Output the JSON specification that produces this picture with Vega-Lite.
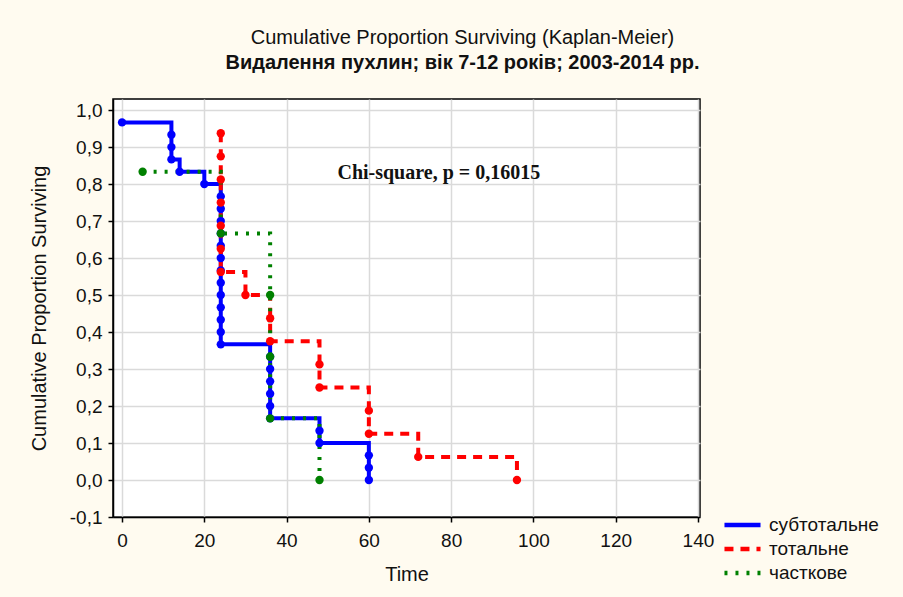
{
  "$schema": "https://vega.github.io/schema/vega-lite/v6.json",
  "width": 587,
  "height": 418,
  "autosize": {"type": "none"},
  "padding": {"left": 113, "top": 99, "right": 203, "bottom": 80},
  "background": "#fffbf0",
  "title": {
    "text": "Cumulative Proportion Surviving (Kaplan-Meier)",
    "subtitle": "Видалення пухлин; вік 7-12 років; 2003-2014 рр.",
    "anchor": "middle",
    "dx": 56,
    "offset": 26,
    "font": "Liberation Sans",
    "fontSize": 20,
    "fontWeight": "normal",
    "color": "#111111",
    "subtitleFont": "Liberation Sans",
    "subtitleFontSize": 20,
    "subtitleFontWeight": "bold",
    "subtitleColor": "#111111",
    "subtitlePadding": 5
  },
  "config": {
    "view": {"fill": "white", "stroke": "black", "strokeWidth": 1.5},
    "axis": {
      "labelFont": "Liberation Sans",
      "labelFontSize": 19,
      "labelColor": "#111111",
      "labelOverlap": false,
      "titleFont": "Liberation Sans",
      "titleFontSize": 20,
      "titleFontWeight": "normal",
      "titleColor": "#111111",
      "gridColor": "#dadada",
      "gridWidth": 1.5,
      "domainColor": "black",
      "domainWidth": 1.5,
      "tickColor": "black",
      "tickWidth": 1.5
    },
    "legend": {
      "labelFont": "Liberation Sans",
      "labelFontSize": 19,
      "labelColor": "#111111"
    }
  },
  "datasets": {
    "km": [
      {"series": "субтотальне", "i": 1, "t": 0, "s": 0.9667},
      {"series": "субтотальне", "i": 2, "t": 12, "s": 0.9333},
      {"series": "субтотальне", "i": 3, "t": 12, "s": 0.9},
      {"series": "субтотальне", "i": 4, "t": 12, "s": 0.8667},
      {"series": "субтотальне", "i": 5, "t": 14, "s": 0.8333},
      {"series": "субтотальне", "i": 6, "t": 20, "s": 0.8},
      {"series": "субтотальне", "i": 7, "t": 24, "s": 0.7667},
      {"series": "субтотальне", "i": 8, "t": 24, "s": 0.7333},
      {"series": "субтотальне", "i": 9, "t": 24, "s": 0.7},
      {"series": "субтотальне", "i": 10, "t": 24, "s": 0.6667},
      {"series": "субтотальне", "i": 11, "t": 24, "s": 0.6333},
      {"series": "субтотальне", "i": 12, "t": 24, "s": 0.6},
      {"series": "субтотальне", "i": 13, "t": 24, "s": 0.5667},
      {"series": "субтотальне", "i": 14, "t": 24, "s": 0.5333},
      {"series": "субтотальне", "i": 15, "t": 24, "s": 0.5},
      {"series": "субтотальне", "i": 16, "t": 24, "s": 0.4667},
      {"series": "субтотальне", "i": 17, "t": 24, "s": 0.4333},
      {"series": "субтотальне", "i": 18, "t": 24, "s": 0.4},
      {"series": "субтотальне", "i": 19, "t": 24, "s": 0.3667},
      {"series": "субтотальне", "i": 20, "t": 36, "s": 0.3333},
      {"series": "субтотальне", "i": 21, "t": 36, "s": 0.3},
      {"series": "субтотальне", "i": 22, "t": 36, "s": 0.2667},
      {"series": "субтотальне", "i": 23, "t": 36, "s": 0.2333},
      {"series": "субтотальне", "i": 24, "t": 36, "s": 0.2},
      {"series": "субтотальне", "i": 25, "t": 36, "s": 0.1667},
      {"series": "субтотальне", "i": 26, "t": 48, "s": 0.1333},
      {"series": "субтотальне", "i": 27, "t": 48, "s": 0.1},
      {"series": "субтотальне", "i": 28, "t": 60, "s": 0.0667},
      {"series": "субтотальне", "i": 29, "t": 60, "s": 0.0333},
      {"series": "субтотальне", "i": 30, "t": 60, "s": 0},
      {"series": "тотальне", "i": 1, "t": 24, "s": 0.9375},
      {"series": "тотальне", "i": 2, "t": 24, "s": 0.875},
      {"series": "тотальне", "i": 3, "t": 24, "s": 0.8125},
      {"series": "тотальне", "i": 4, "t": 24, "s": 0.75},
      {"series": "тотальне", "i": 5, "t": 24, "s": 0.6875},
      {"series": "тотальне", "i": 6, "t": 24, "s": 0.625},
      {"series": "тотальне", "i": 7, "t": 24, "s": 0.5625},
      {"series": "тотальне", "i": 8, "t": 30, "s": 0.5},
      {"series": "тотальне", "i": 9, "t": 36, "s": 0.4375},
      {"series": "тотальне", "i": 10, "t": 36, "s": 0.375},
      {"series": "тотальне", "i": 11, "t": 48, "s": 0.3125},
      {"series": "тотальне", "i": 12, "t": 48, "s": 0.25},
      {"series": "тотальне", "i": 13, "t": 60, "s": 0.1875},
      {"series": "тотальне", "i": 14, "t": 60, "s": 0.125},
      {"series": "тотальне", "i": 15, "t": 72, "s": 0.0625},
      {"series": "тотальне", "i": 16, "t": 96, "s": 0},
      {"series": "часткове", "i": 1, "t": 5, "s": 0.8333},
      {"series": "часткове", "i": 2, "t": 24, "s": 0.6667},
      {"series": "часткове", "i": 3, "t": 36, "s": 0.5},
      {"series": "часткове", "i": 4, "t": 36, "s": 0.3333},
      {"series": "часткове", "i": 5, "t": 36, "s": 0.1667},
      {"series": "часткове", "i": 6, "t": 48, "s": 0}
    ],
    "note": [
      {"label": "Chi-square, p = 0,16015", "t": 77, "s": 0.83}
    ]
  },
  "layer": [
    {
      "data": {"name": "km"},
      "mark": {"type": "line", "interpolate": "step-after", "strokeWidth": 4},
      "encoding": {
        "x": {
          "field": "t", "type": "quantitative",
          "scale": {"domain": [-2.2, 140.5], "nice": false, "zero": false},
          "axis": {
            "title": "Time",
            "values": [0, 20, 40, 60, 80, 100, 120, 140],
            "tickCount": 8,
            "tickSize": 5,
            "labelPadding": 9,
            "titlePadding": 14,
            "grid": true
          }
        },
        "y": {
          "field": "s", "type": "quantitative",
          "scale": {"domain": [-0.1, 1.03], "nice": false, "zero": false},
          "axis": {
            "title": "Cumulative Proportion Surviving",
            "values": [-0.1, 0, 0.1, 0.2, 0.3, 0.4, 0.5, 0.6, 0.7, 0.8, 0.9, 1.0],
            "tickCount": 12,
            "labelExpr": "replace(replace(format(datum.value, '.1f'), '.', ','), '−', '-')",
            "tickSize": 5,
            "labelPadding": 6,
            "titlePadding": 20,
            "grid": true
          }
        },
        "color": {
          "field": "series", "type": "nominal",
          "scale": {"domain": ["субтотальне", "тотальне", "часткове"], "range": ["#0000ff", "#ff0000", "#008000"]},
          "legend": {
            "title": null,
            "orient": "none",
            "legendX": 609,
            "legendY": 416,
            "symbolType": "stroke",
            "symbolSize": 1300,
            "symbolStrokeWidth": 4.5,
            "clipHeight": 20,
            "rowPadding": 4,
            "labelOffset": 6
          }
        },
        "strokeDash": {
          "field": "series", "type": "nominal",
          "scale": {"domain": ["субтотальне", "тотальне", "часткове"], "range": [[1, 0], [9, 7], [3, 8]]},
          "legend": {
            "title": null,
            "orient": "none",
            "legendX": 609,
            "legendY": 416,
            "symbolType": "stroke",
            "symbolSize": 1300,
            "symbolStrokeWidth": 4.5,
            "clipHeight": 20,
            "rowPadding": 4,
            "labelOffset": 6
          }
        },
        "order": {"field": "i", "type": "quantitative"}
      }
    },
    {
      "data": {"name": "km"},
      "mark": {"type": "point", "filled": true, "shape": "circle", "size": 70, "opacity": 1},
      "encoding": {
        "x": {"field": "t", "type": "quantitative"},
        "y": {"field": "s", "type": "quantitative"},
        "color": {"field": "series", "type": "nominal", "legend": null}
      }
    },
    {
      "data": {"name": "note"},
      "mark": {"type": "text", "font": "Liberation Serif", "fontSize": 20, "fontWeight": "bold", "color": "#111111", "align": "center", "baseline": "middle"},
      "encoding": {
        "x": {"field": "t", "type": "quantitative"},
        "y": {"field": "s", "type": "quantitative"},
        "text": {"field": "label"}
      }
    }
  ]
}
